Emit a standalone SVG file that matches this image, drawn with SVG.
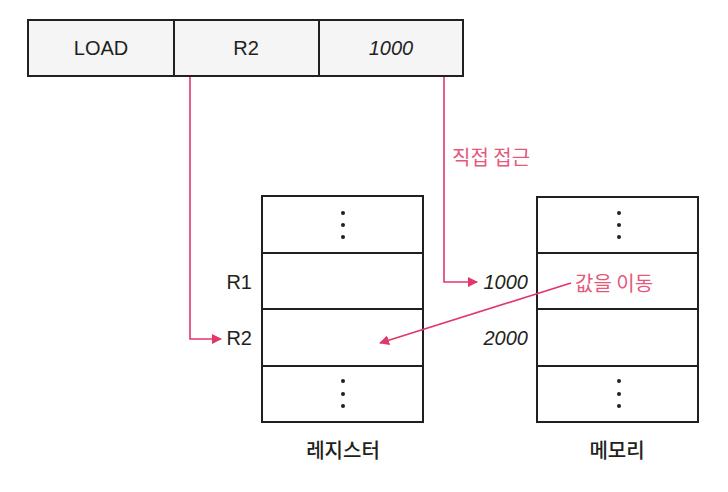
<svg xmlns="http://www.w3.org/2000/svg" width="728" height="492" viewBox="0 0 728 492">
<style>
.box{fill:#f5f5f5;stroke:#231f20;stroke-width:2}
.cell{fill:#ffffff;stroke:#231f20;stroke-width:2}
.t{font-family:"Liberation Sans","Noto Sans CJK KR",sans-serif;font-size:20px;fill:#231f20}
.k{font-family:"Noto Sans CJK KR",sans-serif;font-size:20px;font-weight:500;fill:#231f20}
.p{font-family:"Noto Sans CJK KR",sans-serif;font-size:20px;fill:#e5587a}
.c{fill:none;stroke:#e0386a;stroke-width:1.6}
.dot{fill:#231f20}
</style>
<defs>
<marker id="ah" viewBox="0 0 10 10" refX="9" refY="5" markerWidth="10" markerHeight="10" markerUnits="userSpaceOnUse" orient="auto">
<path d="M0,0 L10,5 L0,10 Z" fill="#e0386a"/>
</marker>
</defs>
<g id="instruction">
<rect class="box" x="28" y="20" width="146" height="56"/>
<rect class="box" x="174" y="20" width="145" height="56"/>
<rect class="box" x="319" y="20" width="144" height="56"/>
<text class="t" x="101" y="55" text-anchor="middle">LOAD</text>
<text class="t" x="246" y="55" text-anchor="middle">R2</text>
<text class="t" x="391" y="55" text-anchor="middle" font-style="italic">1000</text>
</g>
<g id="registers">
<rect class="cell" x="262" y="196" width="161" height="57"/>
<rect class="cell" x="262" y="253" width="161" height="56"/>
<rect class="cell" x="262" y="309" width="161" height="57"/>
<rect class="cell" x="262" y="366" width="161" height="56"/>
<circle class="dot" cx="343" cy="213" r="2"/>
<circle class="dot" cx="343" cy="225" r="2"/>
<circle class="dot" cx="343" cy="237" r="2"/>
<circle class="dot" cx="343" cy="381" r="2"/>
<circle class="dot" cx="343" cy="394" r="2"/>
<circle class="dot" cx="343" cy="406" r="2"/>
<text class="t" x="252" y="289" text-anchor="end">R1</text>
<text class="t" x="252" y="345" text-anchor="end">R2</text>
<text class="k" x="343" y="458" text-anchor="middle">레지스터</text>
</g>
<g id="memory">
<rect class="cell" x="537" y="197" width="161" height="56"/>
<rect class="cell" x="537" y="253" width="161" height="56"/>
<rect class="cell" x="537" y="309" width="161" height="57"/>
<rect class="cell" x="537" y="366" width="161" height="56"/>
<circle class="dot" cx="619" cy="213" r="2"/>
<circle class="dot" cx="619" cy="225" r="2"/>
<circle class="dot" cx="619" cy="237" r="2"/>
<circle class="dot" cx="619" cy="381" r="2"/>
<circle class="dot" cx="619" cy="394" r="2"/>
<circle class="dot" cx="619" cy="406" r="2"/>
<text class="t" x="528" y="289" text-anchor="end" font-style="italic">1000</text>
<text class="t" x="528" y="345" text-anchor="end" font-style="italic">2000</text>
<text class="k" x="617" y="458" text-anchor="middle">메모리</text>
</g>
<g id="connectors">
<path class="c" d="M190,77 V339 H221" marker-end="url(#ah)"/>
<path class="c" d="M444,77 V282 H477" marker-end="url(#ah)"/>
<path class="c" d="M571,283 L380,343" marker-end="url(#ah)"/>
<text class="p" x="452" y="165">직접 접근</text>
<text class="p" x="575" y="291">값을 이동</text>
</g>
</svg>
